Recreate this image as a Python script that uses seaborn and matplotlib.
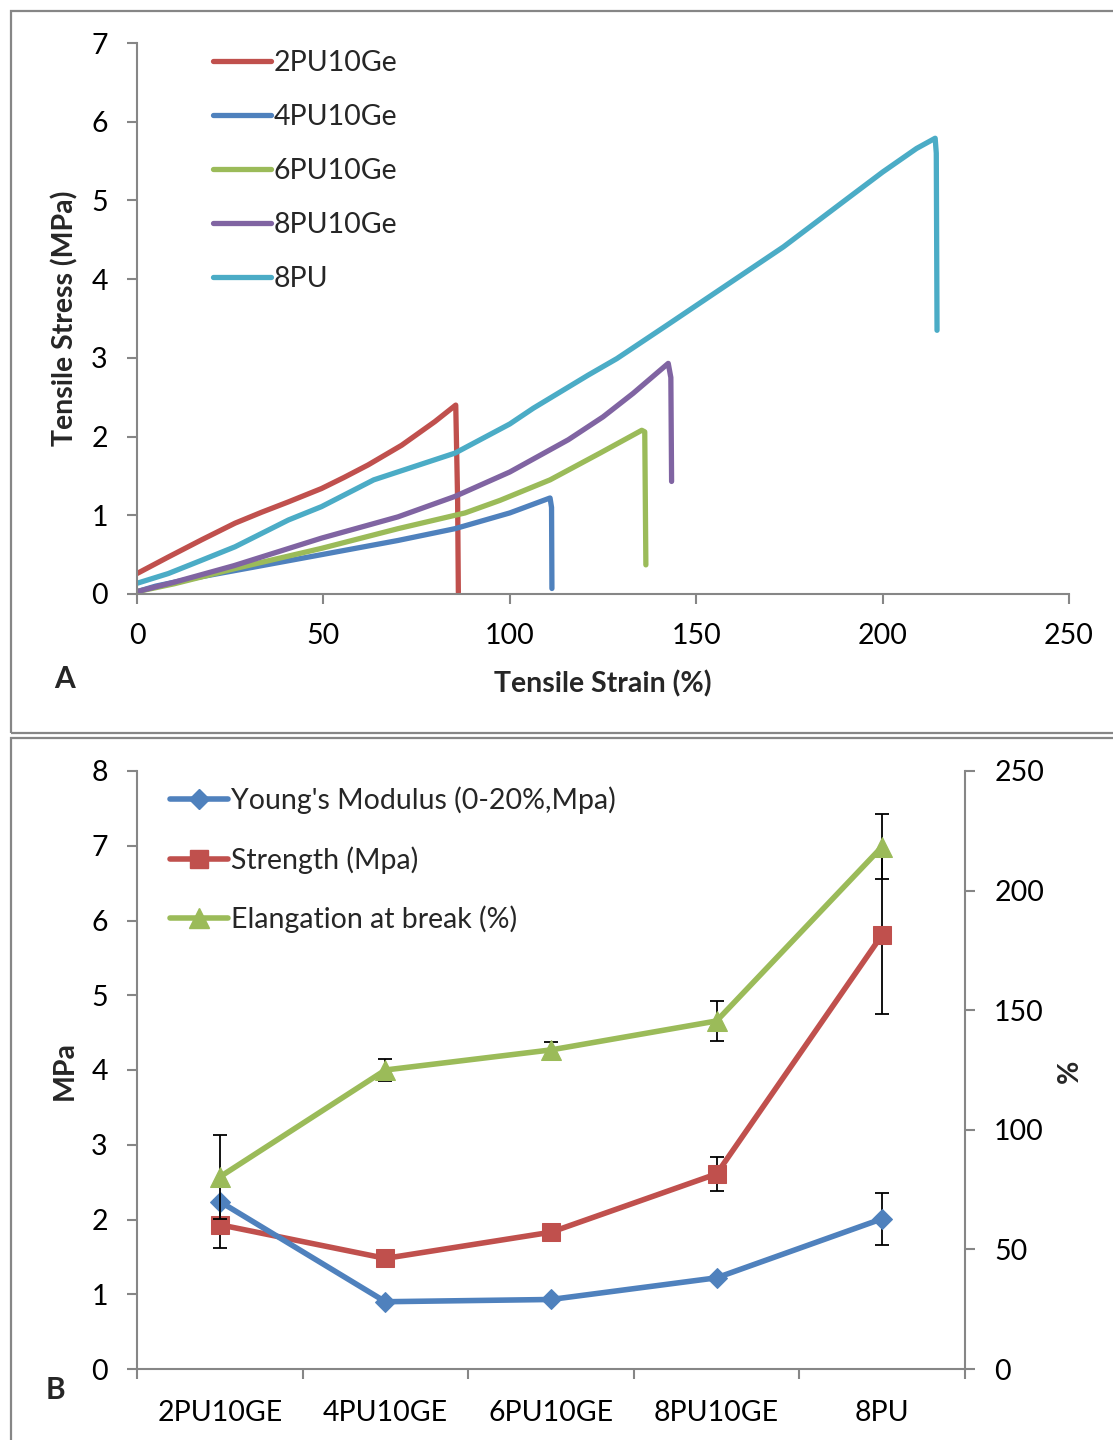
import numpy as np
import pandas as pd
import matplotlib
matplotlib.use("Agg")
import matplotlib.pyplot as plt
from matplotlib.patches import Rectangle
from matplotlib.lines import Line2D
import seaborn as sns

# ---------------- Panel A data (stress-strain curves) ----------------
samples = ["2PU10Ge", "4PU10Ge", "6PU10Ge", "8PU10Ge", "8PU"]
colors = ["#C0504D", "#4F81BD", "#9BBB59", "#8064A2", "#4BACC6"]

strain_2pu = [0, 8.4, 17.4, 26.3, 33.5, 40.6, 49.5, 55.5, 62.0, 71.0, 79.9, 85.5, 86.0, 86.2]
stress_2pu = [0.26, 0.47, 0.69, 0.90, 1.04, 1.17, 1.34, 1.48, 1.64, 1.89, 2.19, 2.40, 1.20, 0.02]

strain_4pu = [0, 5, 15, 30, 49.5, 70, 85.3, 100, 110.8, 111.2, 111.3]
stress_4pu = [0.03, 0.10, 0.20, 0.33, 0.50, 0.68, 0.83, 1.03, 1.22, 1.10, 0.07]

strain_6pu = [0, 10, 26, 49.5, 70, 88, 97.4, 110.8, 124.2, 135.4, 136.2, 136.5]
stress_6pu = [0.03, 0.13, 0.32, 0.58, 0.83, 1.03, 1.19, 1.45, 1.79, 2.08, 2.06, 0.37]

strain_8pu10 = [0, 10, 26, 49.5, 70, 85.3, 100, 115.7, 125, 133.1, 142.5, 143.2, 143.4]
stress_8pu10 = [0.03, 0.15, 0.36, 0.71, 0.98, 1.24, 1.55, 1.96, 2.25, 2.55, 2.93, 2.75, 1.43]

strain_8pu = [0, 8.4, 17.4, 26.3, 40.6, 49.5, 63.5, 85.3, 100, 106.3, 121, 128.7,
              142, 155.5, 173.4, 191.3, 200, 209.1, 214.1, 214.4, 214.6]
stress_8pu = [0.136, 0.26, 0.43, 0.60, 0.94, 1.11, 1.45, 1.79, 2.16, 2.36, 2.78, 2.99,
              3.41, 3.84, 4.41, 5.05, 5.36, 5.66, 5.79, 5.60, 3.35]

# ---------------- Panel B data ----------------
cats = ["2PU10GE", "4PU10GE", "6PU10GE", "8PU10GE", "8PU"]
youngs = [2.24, 0.90, 0.93, 1.22, 2.01]
youngs_err = [0.02, 0.02, 0.02, 0.03, 0.35]
strength = [1.93, 1.48, 1.83, 2.61, 5.81]
strength_err = [0.31, 0.02, 0.02, 0.23, 1.06]
elong = [80.3, 125.0, 133.4, 145.5, 218.4]
elong_err = [17.5, 4.8, 3.3, 8.2, 13.7]

sns.set_theme(style="white")
FONT = ["Lato", "DejaVu Sans"]
plt.rcParams["font.family"] = FONT
plt.rcParams["axes.unicode_minus"] = False

GRAY = "#868686"
FS = 20.5

fig = plt.figure(figsize=(11.13, 14.4), dpi=100)

# panel borders
fig.add_artist(Rectangle((11 / 1113, 1 - 733 / 1440), 1.2, (733 - 11) / 1440,
                         transform=fig.transFigure, fill=False, edgecolor=GRAY, lw=1.6))
fig.add_artist(Rectangle((11 / 1113, -0.1), 1.2, 1 - 738 / 1440 + 0.1,
                         transform=fig.transFigure, fill=False, edgecolor=GRAY, lw=1.6))

# ================= Panel A =================
axA = fig.add_axes([137 / 1113, 1 - 594 / 1440, (1069 - 137) / 1113, (594 - 43) / 1440])
frames = []
for name, sx, sy in zip(samples,
                        [strain_2pu, strain_4pu, strain_6pu, strain_8pu10, strain_8pu],
                        [stress_2pu, stress_4pu, stress_6pu, stress_8pu10, stress_8pu]):
    frames.append(pd.DataFrame({"strain": sx, "stress": sy, "sample": name}))
dfA = pd.concat(frames, ignore_index=True)
sns.lineplot(data=dfA, x="strain", y="stress", hue="sample", hue_order=samples,
             palette=colors, sort=False, estimator=None, units="sample",
             lw=3.8, ax=axA, legend=False, solid_capstyle="round", solid_joinstyle="round")
axA.set_xlim(0, 250)
axA.set_ylim(0, 7)
axA.set_xticks(np.arange(0, 251, 50))
axA.set_yticks(np.arange(0, 8, 1))
axA.set_xlabel("")
axA.set_ylabel("")
for s in ["top", "right"]:
    axA.spines[s].set_visible(False)
for s in ["left", "bottom"]:
    axA.spines[s].set_color(GRAY)
    axA.spines[s].set_linewidth(1.5)
axA.tick_params(axis="both", colors=GRAY, labelcolor="black", direction="out",
                length=7, width=1.5, labelsize=FS)
axA.tick_params(axis="y", pad=14, left=True)
axA.tick_params(axis="x", pad=14, bottom=True)

handlesA = [Line2D([0], [0], color=c, lw=3.8, solid_capstyle="round") for c in colors]
axA.legend(handlesA, samples, loc="upper left", bbox_to_anchor=(0.0815, 0.987),
           frameon=False, fontsize=FS, handlelength=2.05, handletextpad=0.08,
           labelspacing=0.98, borderpad=0, borderaxespad=0)

fig.text(65 / 1113, 1 - 318 / 1440, "Tensile Stress (MPa)", rotation=90, ha="center",
         va="center", fontsize=FS, fontweight="bold")
fig.text(603 / 1113, 1 - 684 / 1440, "Tensile Strain (%)", ha="center", va="center",
         fontsize=FS, fontweight="bold")
fig.text(65 / 1113, 1 - 679 / 1440, "A", ha="center", va="center", fontsize=FS + 1,
         fontweight="bold")

# ================= Panel B =================
axB = fig.add_axes([137 / 1113, 1 - 1369 / 1440, (965 - 137) / 1113, (1369 - 771) / 1440])
axB2 = axB.twinx()
xpos = np.arange(len(cats))
dfB = pd.DataFrame({"x": xpos, "cat": cats, "youngs": youngs, "strength": strength,
                    "elong": elong})

RED, BLUE, GREEN = "#C0504D", "#4F81BD", "#9BBB59"
axB.errorbar(dfB["x"], dfB["strength"], yerr=strength_err, fmt="none", ecolor="black",
             elinewidth=1.3, capsize=5, capthick=1.3, zorder=1)
axB.errorbar(dfB["x"], dfB["youngs"], yerr=youngs_err, fmt="none", ecolor="black",
             elinewidth=1.3, capsize=5, capthick=1.3, zorder=1)
sns.lineplot(data=dfB, x="x", y="strength", color=RED, lw=4, marker="s", markersize=13,
             markeredgecolor=RED, ax=axB, zorder=3)
sns.lineplot(data=dfB, x="x", y="youngs", color=BLUE, lw=4, marker="D", markersize=10,
             markeredgecolor=BLUE, ax=axB, zorder=4)
axB2.errorbar(dfB["x"], dfB["elong"], yerr=elong_err, fmt="none", ecolor="black",
              elinewidth=1.3, capsize=5, capthick=1.3, zorder=1)
sns.lineplot(data=dfB, x="x", y="elong", color=GREEN, lw=4, marker="^", markersize=14,
             markeredgecolor=GREEN, ax=axB2, zorder=3)

axB.set_xlim(-0.5, len(cats) - 0.5)
axB.set_ylim(0, 8)
axB.set_yticks(np.arange(0, 9, 1))
axB2.set_ylim(0, 250)
axB2.set_yticks(np.arange(0, 251, 50))
axB.set_xticks(np.arange(-0.5, len(cats), 1.0))
axB.set_xticklabels([])
axB.set_xticks(xpos, minor=True)
axB.set_xticklabels(cats, minor=True)
for a in (axB, axB2):
    a.set_xlabel("")
    a.set_ylabel("")
    a.spines["top"].set_visible(False)
    for s in ["left", "bottom", "right"]:
        a.spines[s].set_color(GRAY)
        a.spines[s].set_linewidth(1.5)
axB.spines["right"].set_visible(False)
axB2.spines["left"].set_visible(False)
axB2.spines["bottom"].set_visible(False)
axB.tick_params(axis="y", colors=GRAY, labelcolor="black", direction="out", length=7,
                width=1.5, labelsize=FS, pad=14, left=True)
axB.tick_params(axis="x", which="major", colors=GRAY, direction="out", length=7.5,
                width=1.5, bottom=True)
axB.tick_params(axis="x", which="minor", length=0, labelsize=FS, labelcolor="black",
                pad=22, bottom=True)
axB2.tick_params(axis="y", colors=GRAY, labelcolor="black", direction="out", length=7,
                 width=1.5, labelsize=FS, pad=14, right=True)

handlesB = [
    Line2D([0], [0], color=BLUE, lw=4, marker="D", markersize=10, markeredgecolor=BLUE),
    Line2D([0], [0], color=RED, lw=4, marker="s", markersize=13, markeredgecolor=RED),
    Line2D([0], [0], color=GREEN, lw=4, marker="^", markersize=14, markeredgecolor=GREEN),
]
labelsB = ["Young's Modulus (0-20%,Mpa)", "Strength (Mpa)", "Elangation at break (%)"]
axB2.legend(handlesB, labelsB, loc="upper left", bbox_to_anchor=(0.04, 0.974),
            frameon=False, fontsize=FS, handlelength=2.05, handletextpad=0.08,
            labelspacing=1.12, borderpad=0, borderaxespad=0, numpoints=1)

fig.text(65 / 1113, 1 - 1070 / 1440, "MPa", rotation=90, ha="center", va="center",
         fontsize=FS, fontweight="bold")
fig.text(1070 / 1113, 1 - 1071 / 1440, "%", rotation=90, ha="center", va="center",
         fontsize=FS, fontweight="bold")
fig.text(55 / 1113, 1 - 1390 / 1440, "B", ha="center", va="center", fontsize=FS + 1,
         fontweight="bold")

fig.savefig("out.png", dpi=100, facecolor="white")
